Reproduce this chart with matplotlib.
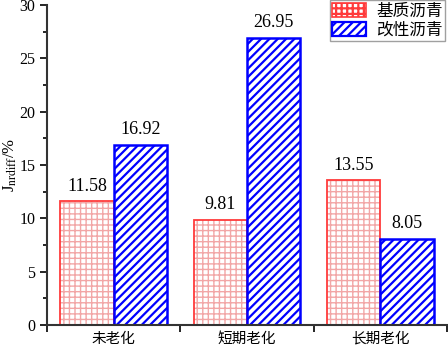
import matplotlib
matplotlib.use("Agg")
import matplotlib.pyplot as plt
import numpy as np
from matplotlib.patches import Patch

categories = ["未老化", "短期老化", "长期老化"]
series_names = ["基质沥青", "改性沥青"]
base_vals = [11.58, 9.81, 13.55]
mod_vals = [16.92, 26.95, 8.05]

plt.rcParams['font.family'] = ['Liberation Serif', 'Noto Sans CJK SC']
plt.rcParams['mathtext.fontset'] = 'stix'

fig = plt.figure(figsize=(4.48, 3.49), dpi=100)
ax = fig.add_axes([47/448, 24/349, 400/448, 320/349])

x = np.arange(len(categories))
w = 0.4
red_edge = '#ff3b3b'
red_hatch = '#f2a6a6'
blue = '#0000ff'

plt.rcParams['hatch.linewidth'] = 1.0
b1 = ax.bar(x - w/2, base_vals, w, facecolor='white', edgecolor=red_hatch, hatch='+++', linewidth=0)
for p in b1:
    if hasattr(p, 'set_hatch_linewidth'):
        p.set_hatch_linewidth(1.0)
ax.bar(x - w/2, base_vals, w, facecolor='none', edgecolor=red_edge, linewidth=1.3)
plt.rcParams['hatch.linewidth'] = 1.6
b2 = ax.bar(x + w/2, mod_vals, w, facecolor='white', edgecolor=blue, hatch='////', linewidth=1.8)
for p in b2:
    if hasattr(p, 'set_hatch_linewidth'):
        p.set_hatch_linewidth(1.6)

for xi, v in list(zip(x - w/2, base_vals)) + list(zip(x + w/2, mod_vals)):
    ax.annotate(f"{v:.2f}", (xi, v), xytext=(0, 5), textcoords='offset points',
                ha='center', va='bottom', fontsize=13)

ax.set_xlim(-0.5, 2.5)
ax.set_ylim(0, 30)
ax.set_yticks(np.arange(0, 31, 5))
ax.set_yticks(np.arange(2.5, 30, 5), minor=True)
ax.set_xticks([-0.5, 0.5, 1.5, 2.5])
ax.set_xticklabels([])
ax.set_xticks(x, minor=True)
ax.set_xticklabels(categories, minor=True, fontsize=10.5, family=['Noto Sans CJK SC'])
ax.tick_params(axis='x', which='minor', length=0, pad=5)
ax.tick_params(axis='x', which='major', length=5, width=1.2)
ax.tick_params(axis='y', which='major', length=5, width=1.2, labelsize=11.5)
ax.tick_params(axis='y', which='minor', length=3, width=1.2)
for s in ['top', 'right']:
    ax.spines[s].set_visible(False)
for s in ['left', 'bottom']:
    ax.spines[s].set_linewidth(1.5)
    ax.spines[s].set_color('#333333')

ax.set_ylabel(r"J$_{\rm nrdiff}$/%", fontsize=12)
ax.yaxis.set_label_coords(-0.07, 0.5)

handles = [Patch(facecolor='white', edgecolor=red_edge, hatch='+++', linewidth=1.2),
           Patch(facecolor='white', edgecolor=blue, hatch='////', linewidth=1.6)]
leg = ax.legend(handles, series_names, loc='upper right', bbox_to_anchor=(1.0, 1.02),
                prop={'family': ['Noto Sans CJK SC'], 'size': 12}, frameon=True, fancybox=False,
                edgecolor='#888888', handlelength=2.05, handleheight=0.95, borderpad=0.15,
                labelspacing=0.1, handletextpad=0.6, borderaxespad=0.1)
leg.get_frame().set_linewidth(1.0)

fig.savefig("out.png", dpi=100)
